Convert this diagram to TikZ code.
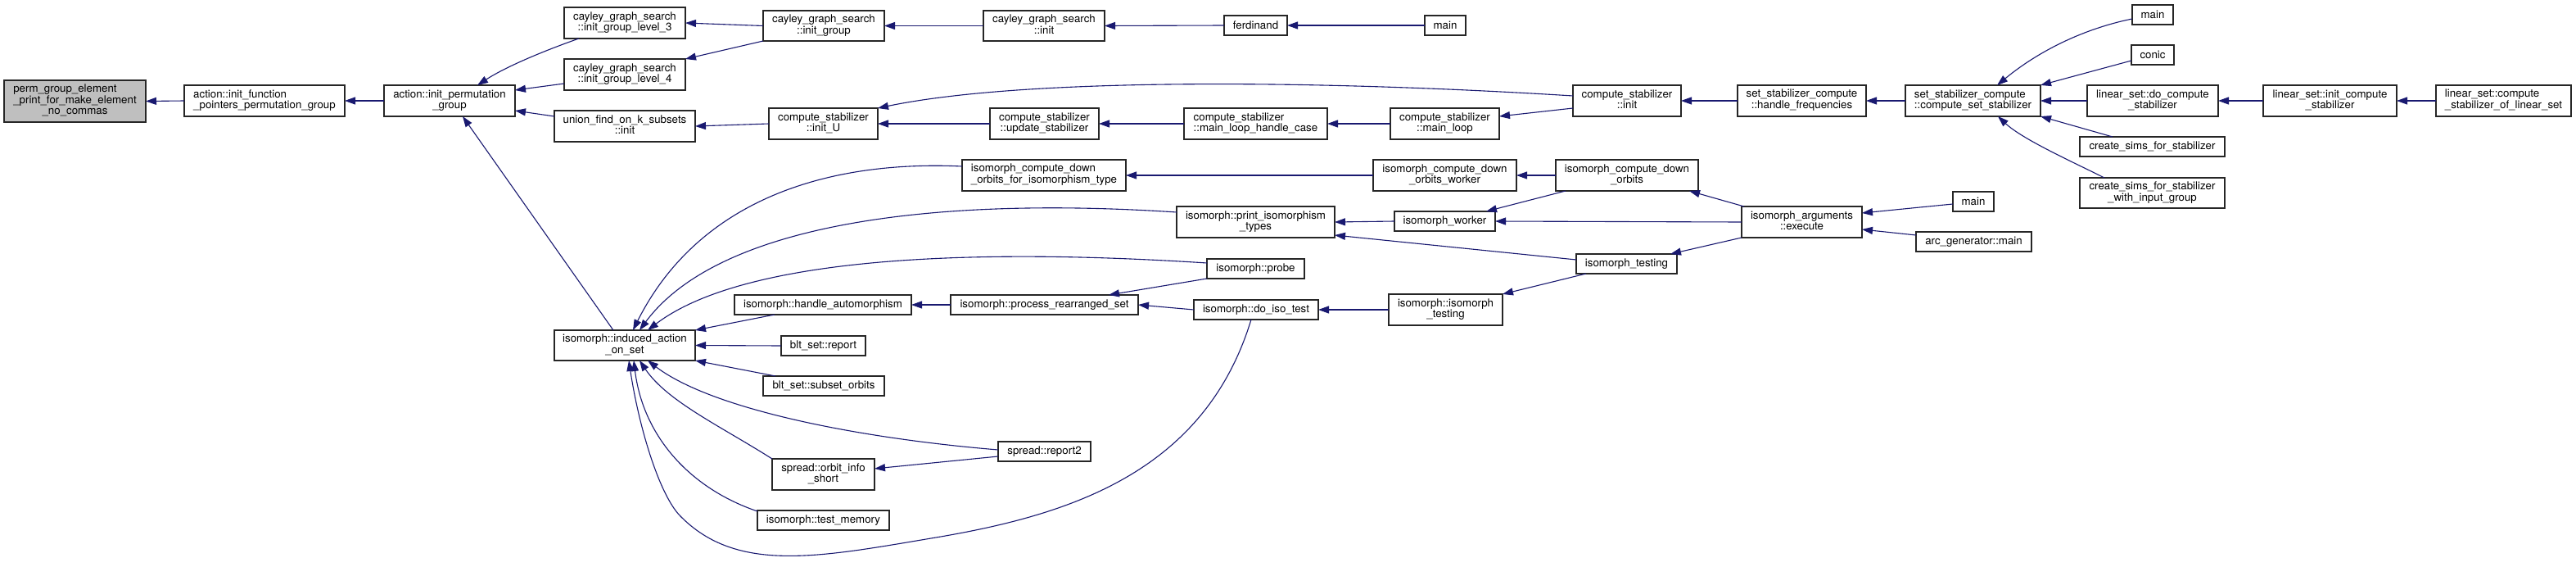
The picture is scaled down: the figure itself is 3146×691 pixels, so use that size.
\documentclass[tikz,border=0pt]{standalone}
\usepackage{fontspec}
\setmainfont{TeX Gyre Heros}
\usetikzlibrary{arrows.meta,calc}
\definecolor{mblue}{HTML}{191970}
\definecolor{permgray}{HTML}{BFBFBF}
\newcommand{\twol}[2]{\begin{tabular}{@{}l@{}}#1\\\multicolumn{1}{@{}c@{}}{#2}\end{tabular}}
\newcommand{\threel}[3]{\begin{tabular}{@{}l@{}}#1\\#2\\\multicolumn{1}{@{}c@{}}{#3}\end{tabular}}
\newcommand{\gnode}[7][]{\node[gbox,#1,minimum width={(#5-#3)*1pt},minimum height={(#6-#4)*1pt}] (#2) at (#3,#4) {#7};}
\tikzset{
  gbox/.style={draw=black!85,line width=1.2pt,fill=white,rectangle,inner sep=0pt,outer sep=0pt,anchor=north west,
    font=\fontsize{13.3}{13.3}\selectfont},
  edge/.style={draw=mblue,line width=1.1pt,-{Triangle[length=13pt,width=9pt]}}
}
\begin{document}
\begin{tikzpicture}[x=1pt,y=-1pt]
\useasboundingbox (0,0) rectangle (3146,691);
% nodes
\gnode[fill=permgray]{perm}{5}{98}{178}{149}{\threel{perm\_group\_element}{\_print\_for\_make\_element}{\_no\_commas}}
\gnode{initfp}{225}{104}{421}{142}{\twol{action::init\_function}{\_pointers\_permutation\_group}}
\gnode{initperm}{469}{104}{629}{142}{\twol{action::init\_permutation}{\_group}}
\gnode{cayley3}{689}{9}{837}{47}{\twol{cayley\_graph\_search}{::init\_group\_level\_3}}
\gnode{cayley4}{689}{72}{837}{110}{\twol{cayley\_graph\_search}{::init\_group\_level\_4}}
\gnode{unionfind}{677}{135}{849}{173}{\twol{union\_find\_on\_k\_subsets}{::init}}
\gnode{induced}{677}{403}{849}{440}{\twol{isomorph::induced\_action}{\_on\_set}}
\gnode{cayinitgroup}{932}{13}{1080}{50}{\twol{cayley\_graph\_search}{::init\_group}}
\gnode{cayinit}{1201}{13}{1349}{50}{\twol{cayley\_graph\_search}{::init}}
\gnode{ferdinand}{1495}{19}{1572}{43}{ferdinand}
\gnode{initU}{939}{132}{1072}{170}{\twol{compute\_stabilizer}{::init\_U}}
\gnode{updstab}{1209}{132}{1342}{170}{\twol{compute\_stabilizer}{::update\_stabilizer}}
\gnode{mainloophc}{1446}{132}{1621}{170}{\twol{compute\_stabilizer}{::main\_loop\_handle\_case}}
\gnode{icdoit}{1175}{195}{1375}{233}{\twol{isomorph\_compute\_down}{\_orbits\_for\_isomorphism\_type}}
\gnode{printiso}{1437}{252}{1630}{290}{\twol{isomorph::print\_isomorphism}{\_types}}
\gnode{probe}{1474}{316}{1593}{340}{isomorph::probe}
\gnode{handleauto}{897}{360}{1113}{384}{isomorph::handle\_automorphism}
\gnode{procrear}{1161}{360}{1390}{384}{isomorph::process\_rearranged\_set}
\gnode{doiso}{1458}{366}{1610}{390}{isomorph::do\_iso\_test}
\gnode{bltreport}{954}{410}{1057}{434}{blt\_set::report}
\gnode{bltsubset}{932}{459}{1080}{483}{blt\_set::subset\_orbits}
\gnode{report2}{1219}{539}{1332}{563}{spread::report2}
\gnode{orbitinfo}{943}{560}{1068}{598}{\twol{spread::orbit\_info}{\_short}}
\gnode{testmem}{925}{623}{1086}{647}{isomorph::test\_memory}
\gnode{main1}{1740}{19}{1790}{43}{main}
\gnode{csinit}{1921}{104}{2053}{142}{\twol{compute\_stabilizer}{::init}}
\gnode{sshf}{2122}{104}{2279}{142}{\twol{set\_stabilizer\_compute}{::handle\_frequencies}}
\gnode{sscss}{2327}{104}{2492}{142}{\twol{set\_stabilizer\_compute}{::compute\_set\_stabilizer}}
\gnode{mainloop}{1698}{132}{1831}{170}{\twol{compute\_stabilizer}{::main\_loop}}
\gnode{icdow}{1677}{195}{1852}{233}{\twol{isomorph\_compute\_down}{\_orbits\_worker}}
\gnode{icdo}{1900}{195}{2074}{233}{\twol{isomorph\_compute\_down}{\_orbits}}
\gnode{isoworker}{1703}{258}{1826}{282}{isomorph\_worker}
\gnode{isoargs}{2127}{252}{2274}{290}{\twol{isomorph\_arguments}{::execute}}
\gnode{isotesting}{1925}{310}{2048}{334}{isomorph\_testing}
\gnode{isoisotesting}{1696}{359}{1835}{397}{\twol{isomorph::isomorph}{\_testing}}
\gnode{main2}{2604}{6}{2654}{30}{main}
\gnode{conic}{2603}{55}{2655}{79}{conic}
\gnode{lsdo}{2549}{104}{2709}{142}{\twol{linear\_set::do\_compute}{\_stabilizer}}
\gnode{lsinit}{2764}{104}{2927}{142}{\twol{linear\_set::init\_compute}{\_stabilizer}}
\gnode{lscomp}{2975}{104}{3140}{142}{\twol{linear\_set::compute}{\_stabilizer\_of\_linear\_set}}
\gnode{csfs}{2540}{167}{2717}{191}{create\_sims\_for\_stabilizer}
\gnode{csfswig}{2540}{217}{2717}{254}{\twol{create\_sims\_for\_stabilizer}{\_with\_input\_group}}
\gnode{main3}{2385}{234}{2435}{258}{main}
\gnode{arcgen}{2340}{283}{2481}{307}{arc\_generator::main}
% edges
\draw[edge] (initfp.west) -- (perm.east);
\draw[edge] (initperm.west) -- (initfp.east);
\draw[edge] ($(cayley3.south west)+(18,0)$) .. controls (670,60) and (620,80) .. ($(initperm.north west)+(114,0)$);
\draw[edge] ($(cayley4.west)+(0,11)$) -- ($(initperm.east)+(0,-13)$);
\draw[edge] ($(unionfind.west)+(0,-12)$) -- ($(initperm.east)+(0,12)$);
\draw[edge] ($(induced.north west)+(72,0)$) -- ($(initperm.south west)+(96,0)$);
\draw[edge] (cayinitgroup.west) -- (cayley3.east);
\draw[edge] (cayinitgroup.south west) -- (cayley4.north east);
\draw[edge] (cayinit.west) -- (cayinitgroup.east);
\draw[edge] (ferdinand.west) -- (cayinit.east);
\draw[edge] (main1.west) -- (ferdinand.east);
\draw[edge] (initU.west) -- (unionfind.east);
\draw[edge] (updstab.west) -- (initU.east);
\draw[edge] (mainloophc.west) -- (updstab.east);
\draw[edge] (mainloop.west) -- (mainloophc.east);
\draw[edge] ($(csinit.west)+(0,9)$) -- ($(mainloop.east)+(0,-9)$);
\draw[edge] ($(csinit.west)+(0,-6)$) .. controls (1600,97) and (1250,95) .. (initU.north east);
\draw[edge] (sshf.west) -- (csinit.east);
\draw[edge] (sscss.west) -- (sshf.east);
\draw[edge] ($(main2.west)+(0,5)$) .. controls (2545,35) and (2490,62) .. ($(sscss.north west)+(112,0)$);
\draw[edge] ($(conic.west)+(0,7)$) -- (sscss.north east);
\draw[edge] (lsdo.west) -- (sscss.east);
\draw[edge] ($(csfs.north west)+(40,0)$) -- (sscss.south east);
\draw[edge] ($(csfswig.north west)+(30,0)$) .. controls (2530,197) and (2470,170) .. ($(sscss.south west)+(113,0)$);
\draw[edge] (lsinit.west) -- (lsdo.east);
\draw[edge] (lscomp.west) -- (lsinit.east);
\draw[edge] ($(icdoit.west)+(0,-11)$) .. controls (1000,195) and (850,250) .. ($(induced.north west)+(96,0)$);
\draw[edge] ($(printiso.west)+(0,-12)$) .. controls (1150,240) and (880,270) .. ($(induced.north west)+(104,0)$);
\draw[edge] ($(probe.west)+(0,-7)$) .. controls (1150,300) and (900,320) .. ($(induced.north west)+(114,0)$);
\draw[edge] ($(handleauto.south west)+(49,0)$) -- (induced.north east);
\draw[edge] (bltreport.west) -- (induced.east);
\draw[edge] ($(bltsubset.north west)+(15,0)$) -- (induced.south east);
\draw[edge] ($(report2.west)+(0,-2)$) .. controls (1050,535) and (870,500) .. ($(induced.south west)+(114,0)$);
\draw[edge] (orbitinfo.north west) .. controls (880,520) and (815,490) .. ($(induced.south west)+(104,0)$);
\draw[edge] ($(testmem.north west)+(0,1)$) .. controls (840,595) and (785,530) .. ($(induced.south west)+(97,0)$);
\draw[edge] ($(doiso.south west)+(70,0)$) .. controls (1470,580) and (1300,630) .. (1137,657) .. controls (1000,680) and (900,700) .. (831,630) .. controls (805,604) and (780,520) .. ($(induced.south west)+(91,0)$);
\draw[edge] (icdow.west) -- (icdoit.east);
\draw[edge] (icdo.west) -- (icdow.east);
\draw[edge] ($(isoargs.north west)+(3,0)$) -- ($(icdo.south east)+(-11,0)$);
\draw[edge] ($(icdo.south west)+(12,0)$) -- ($(isoworker.north east)+(-11,0)$);
\draw[edge] (isoargs.west) -- (isoworker.east);
\draw[edge] (isoworker.west) -- (printiso.east);
\draw[edge] ($(isotesting.west)+(0,-5)$) -- ($(printiso.east)+(0,16)$);
\draw[edge] (isoargs.south west) -- ($(isotesting.north east)+(-8,0)$);
\draw[edge] ($(main3.west)+(0,3)$) -- ($(isoargs.east)+(0,-11)$);
\draw[edge] ($(arcgen.north west)+(0,4)$) -- ($(isoargs.east)+(0,9)$);
\draw[edge] ($(isotesting.south west)+(12,0)$) -- (isoisotesting.north east);
\draw[edge] (isoisotesting.west) -- (doiso.east);
\draw[edge] (doiso.west) -- (procrear.east);
\draw[edge] (procrear.west) -- (handleauto.east);
\draw[edge] (probe.south west) -- ($(procrear.north west)+(193,0)$);
\draw[edge] ($(report2.west)+(0,6)$) -- ($(orbitinfo.east)+(0,-7)$);
\end{tikzpicture}
\end{document}
